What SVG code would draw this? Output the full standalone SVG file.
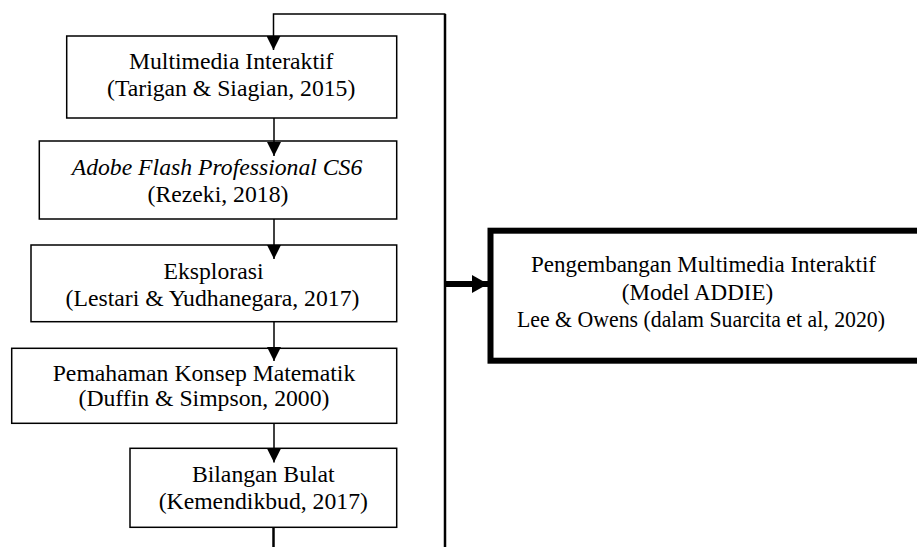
<svg xmlns="http://www.w3.org/2000/svg" width="917" height="547" viewBox="0 0 917 547">
<defs>
<style>
.box{fill:#fff;stroke:#000;stroke-width:1.5}
.big{fill:#fff;stroke:#000;stroke-width:6}
.t{font-family:"Liberation Serif","Times New Roman",serif;font-size:23.7px;fill:#000;text-anchor:middle}
.tr{font-family:"Liberation Serif","Times New Roman",serif;font-size:23px;fill:#000;text-anchor:middle}
.i{font-style:italic}
.ln{fill:none;stroke:#000;stroke-width:1.5}
.thk{fill:none;stroke:#000;stroke-width:2.5}
</style>
<marker id="ah" markerUnits="userSpaceOnUse" viewBox="0 0 14 14" refX="14" refY="7" markerWidth="14" markerHeight="14" orient="auto">
<path d="M0,0 L14,7 L0,14 Z" fill="#000"/>
</marker>
<marker id="ahb" markerUnits="userSpaceOnUse" viewBox="0 0 16 18" refX="16" refY="9" markerWidth="16" markerHeight="18" orient="auto">
<path d="M0,0 L16,9 L0,18 Z" fill="#000"/>
</marker>
</defs>
<rect width="917" height="547" fill="#fff"/>
<g id="n1">
<rect class="box" x="66.7" y="36" width="330" height="82"/>
<text class="t" x="231.2" y="69">Multimedia Interaktif</text>
<text class="t" x="231.2" y="96">(Tarigan &amp; Siagian, 2015)</text>
</g>
<g id="n2">
<rect class="box" x="39.3" y="141" width="357.4" height="78"/>
<text class="t i" x="217" y="175">Adobe Flash Professional CS6</text>
<text class="t" x="218" y="202">(Rezeki, 2018)</text>
</g>
<g id="n3">
<rect class="box" x="31" y="245" width="365.7" height="76.7"/>
<text class="t" x="213.5" y="279">Eksplorasi</text>
<text class="t" x="212.5" y="305.5">(Lestari &amp; Yudhanegara, 2017)</text>
</g>
<g id="n4">
<rect class="box" x="11.7" y="348.3" width="385" height="75"/>
<text class="t" x="204" y="381">Pemahaman Konsep Matematik</text>
<text class="t" x="204" y="406">(Duffin &amp; Simpson, 2000)</text>
</g>
<g id="n5">
<rect class="box" x="130" y="448.3" width="266.7" height="79"/>
<text class="t" x="263.3" y="482">Bilangan Bulat</text>
<text class="t" x="263.3" y="508.5">(Kemendikbud, 2017)</text>
</g>
<g id="n6">
<rect class="big" x="490.5" y="230.7" width="432" height="130"/>
<text class="tr" x="703.5" y="272">Pengembangan Multimedia Interaktif</text>
<text class="tr" x="697.5" y="299.5">(Model ADDIE)</text>
<text class="tr" x="701" y="327" textLength="368" lengthAdjust="spacingAndGlyphs">Lee &amp; Owens (dalam Suarcita et al, 2020)</text>
</g>
<g id="connectors">
<path class="thk" d="M445,547 V14"/>
<path class="ln" d="M445.5,14 H273.5 V50" marker-end="url(#ah)"/>
<path class="ln" d="M274,118 V156" marker-end="url(#ah)"/>
<path class="ln" d="M274,219 V259" marker-end="url(#ah)"/>
<path class="ln" d="M274,321.7 V361" marker-end="url(#ah)"/>
<path class="ln" d="M274,423.3 V462.5" marker-end="url(#ah)"/>
<path class="thk" d="M273.5,527.3 V547"/>
<path fill="none" stroke="#000" stroke-width="6" d="M445,284 H488" marker-end="url(#ahb)"/>
</g>
</svg>
